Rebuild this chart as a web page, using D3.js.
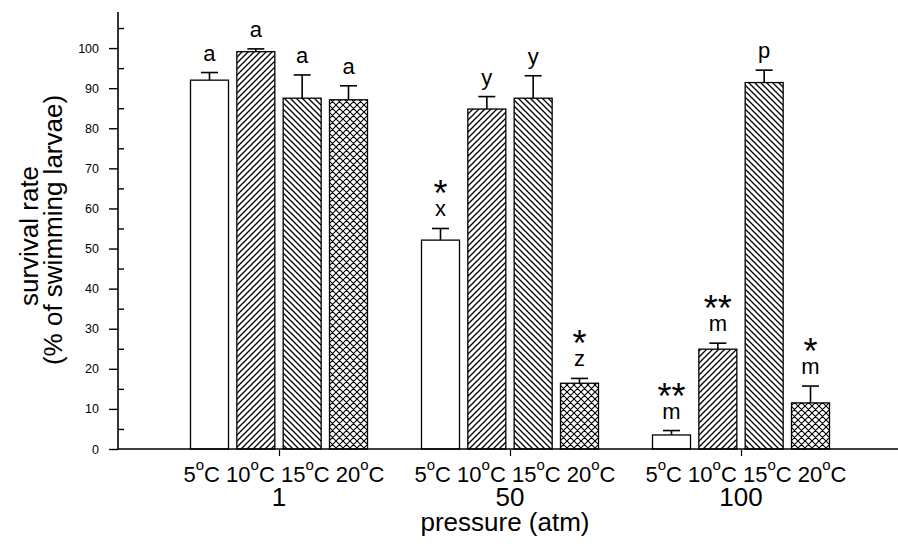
<!DOCTYPE html>
<html>
<head>
<meta charset="utf-8">
<script src="https://cdn.jsdelivr.net/npm/d3@7"></script>
<style>
  html, body { margin: 0; padding: 0; background: #fff; }
  svg { display: block; font-family: "Liberation Sans", Arial, Helvetica, sans-serif; }
</style>
</head>
<body>
<svg id="chart" width="898" height="544"></svg>
<script>
// ---- data ----
const pressures = ["1", "50", "100"];
const temps = ["5", "10", "15", "20"];
const survival1   = [92.0, 99.1, 87.5, 87.1];
const survival50  = [52.1, 84.8, 87.5, 16.4];
const survival100 = [3.5, 24.9, 91.4, 11.5];
const err1   = [1.9, 0.7, 5.8, 3.5];
const err50  = [2.9, 3.1, 5.6, 1.2];
const err100 = [1.1, 1.5, 3.1, 4.2];
const letters1   = ["a", "a", "a", "a"];
const letters50  = ["x", "y", "y", "z"];
const letters100 = ["m", "m", "p", "m"];
const stars1   = ["", "", "", ""];
const stars50  = ["*", "", "", "*"];
const stars100 = ["**", "**", "", "*"];
const yTicks = [0, 10, 20, 30, 40, 50, 60, 70, 80, 90, 100];
const yMinorTicks = [5, 15, 25, 35, 45, 55, 65, 75, 85, 95, 105];

const svgSel = d3.select("#chart");
const W = 898, H = 544;
svgSel.append("rect").attr("width", W).attr("height", H).attr("fill", "#fff");

// patterns
const defs = svgSel.append("defs");
function pat(id, size, d, sw) {
  defs.append("pattern").attr("id", id).attr("patternUnits", "userSpaceOnUse")
    .attr("width", size).attr("height", size)
    .append("path").attr("d", d).attr("stroke", "#000").attr("stroke-width", sw)
    .attr("fill", "none");
}
pat("fwd", 6, "M-1,1 l2,-2 M0,6 l6,-6 M5,7 l2,-2", 1.3);
pat("back", 6, "M-1,5 l2,2 M0,0 l6,6 M5,-1 l2,2", 1.3);
pat("cross", 7, "M-1,1 l2,-2 M0,7 l7,-7 M6,8 l2,-2 M-1,6 l2,2 M0,0 l7,7 M6,-1 l2,2", 1.1);
const fills = ["#fff", "url(#fwd)", "url(#back)", "url(#cross)"];

const axisX = 118, baseY = 449;
const y = d3.scaleLinear().domain([0, 109]).range([baseY, 12]);
const xG = d3.scalePoint().domain(pressures).range([279, 741]);
const xT = d3.scaleBand().domain(temps).range([-88.5, 88.5]).paddingInner(0.18);

const rows = [
  { p: "1", vals: survival1, errs: err1, lets: letters1, stars: stars1 },
  { p: "50", vals: survival50, errs: err50, lets: letters50, stars: stars50 },
  { p: "100", vals: survival100, errs: err100, lets: letters100, stars: stars100 }
];
const data = [];
rows.forEach(r => temps.forEach((t, i) => data.push({
  p: r.p, t, i, v: r.vals[i], e: r.errs[i], l: r.lets[i], s: r.stars[i]
})));

const g = svgSel.append("g");

// bars
g.selectAll("rect.bar").data(data).join("rect")
  .attr("class", "bar")
  .attr("x", d => xG(d.p) + xT(d.t))
  .attr("y", d => y(d.v))
  .attr("width", xT.bandwidth())
  .attr("height", d => baseY - y(d.v))
  .attr("fill", d => fills[d.i])
  .attr("stroke", "#000").attr("stroke-width", 1.3);

// error bars
const cx = d => xG(d.p) + xT(d.t) + xT.bandwidth() / 2;
g.selectAll("line.err").data(data).join("line")
  .attr("x1", cx).attr("x2", cx)
  .attr("y1", d => y(d.v)).attr("y2", d => y(d.v + d.e))
  .attr("stroke", "#000").attr("stroke-width", 1.6);
g.selectAll("line.cap").data(data).join("line")
  .attr("x1", d => cx(d) - 8.5).attr("x2", d => cx(d) + 8.5)
  .attr("y1", d => y(d.v + d.e)).attr("y2", d => y(d.v + d.e))
  .attr("stroke", "#000").attr("stroke-width", 1.6);

// letters
g.selectAll("text.let").data(data).join("text")
  .attr("x", cx).attr("y", d => y(d.v + d.e) - 12)
  .attr("text-anchor", "middle").attr("font-size", 22)
  .text(d => d.l);
g.selectAll("text.star").data(data.filter(d => d.s)).join("text")
  .attr("x", cx).attr("y", d => y(d.v + d.e) - 12 - 10)
  .attr("text-anchor", "middle").attr("font-size", 36)
  .text(d => d.s);

// y axis
const yAxis = d3.axisLeft(y).tickValues(yTicks).tickSize(9).tickSizeOuter(0).tickPadding(10);
const ya = svgSel.append("g").attr("transform", `translate(${axisX},0)`).call(yAxis);
ya.select(".domain").remove();
ya.selectAll("text").attr("font-size", 12.5).attr("font-family", "Liberation Sans, Arial, sans-serif");
ya.selectAll("line").attr("stroke-width", 1.4);
const yMinor = d3.axisRight(y).tickValues(yMinorTicks).tickSize(6).tickSizeOuter(0).tickFormat("");
const ym = svgSel.append("g").attr("transform", `translate(${axisX},0)`).call(yMinor);
ym.select(".domain").remove();
ym.selectAll("line").attr("stroke-width", 1.4);
svgSel.append("line").attr("x1", axisX).attr("x2", axisX).attr("y1", y(109)).attr("y2", baseY)
  .attr("stroke", "#000").attr("stroke-width", 1.6);

// x axis baseline + ticks
svgSel.append("line").attr("x1", axisX).attr("x2", W).attr("y1", baseY).attr("y2", baseY)
  .attr("stroke", "#000").attr("stroke-width", 1.6);
const xAxis = d3.axisBottom(xG).tickSize(6).tickFormat("");
const xa = svgSel.append("g").attr("transform", `translate(0,${baseY + 1})`).call(xAxis);
xa.select(".domain").remove();
xa.selectAll("line").attr("stroke-width", 1.2);

// temperature labels: one line per pressure group
const tl = svgSel.selectAll("text.tl").data(pressures).join("text")
  .attr("class", "tl")
  .attr("x", d => xG(d) + 5).attr("y", 482)
  .attr("text-anchor", "middle").attr("font-size", 22);
temps.forEach((t, k) => {
  tl.append("tspan").text((k > 0 ? " " : "") + t);
  tl.append("tspan").attr("font-size", 15).attr("dy", -12).text("o");
  tl.append("tspan").attr("dy", 12).text("C");
});

// pressure labels
svgSel.selectAll("text.pl").data(pressures).join("text")
  .attr("x", d => xG(d)).attr("y", 506)
  .attr("text-anchor", "middle").attr("font-size", 26)
  .text(d => d);

// axis titles
svgSel.append("text").attr("x", 505).attr("y", 531)
  .attr("text-anchor", "middle").attr("font-size", 26).text("pressure (atm)");
svgSel.append("text").attr("transform", "translate(38,236) rotate(-90)")
  .attr("text-anchor", "middle").attr("font-size", 26).text("survival rate");
svgSel.append("text").attr("transform", "translate(62,230) rotate(-90)")
  .attr("text-anchor", "middle").attr("font-size", 26).text("(% of swimming larvae)");
</script>
</body>
</html>
